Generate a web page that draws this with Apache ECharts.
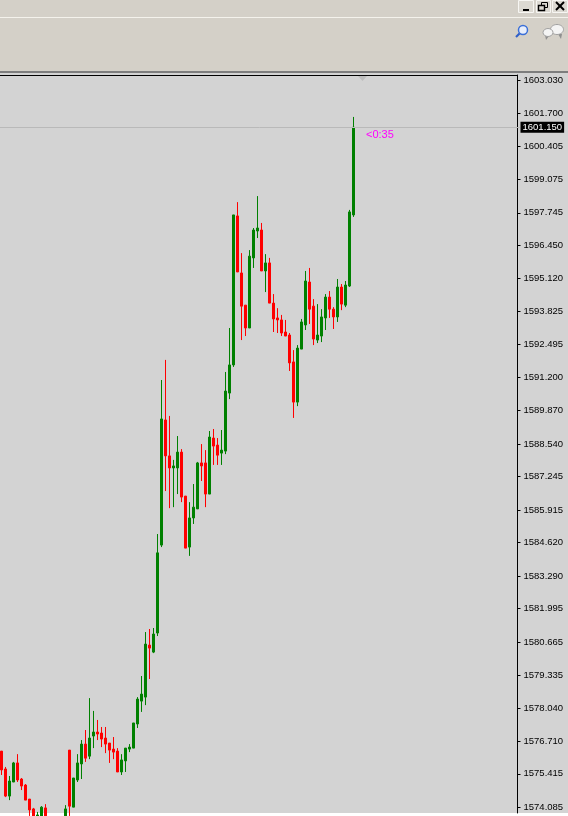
<!DOCTYPE html>
<html>
<head>
<meta charset="utf-8">
<style>
  html, body { margin: 0; padding: 0; background: #fff; }
  #chart { width: 568px; height: 816px; }
</style>
<script src="https://cdn.jsdelivr.net/npm/echarts@6/dist/echarts.min.js"></script>
</head>
<body>
<div id="chart"></div>
<script>
// candles, oldest first. null = bar sits below the visible window
const opens = [1576.32,1575.61,1574.53,1575.09,1575.85,1575.21,1574.97,1574.41,1574.02,1573.50,1573.58,1574.06,null,null,null,null,1573.60,1576.36,1574.09,1575.17,1575.81,1576.60,1576.12,1576.92,1577.08,1577.04,1576.84,1576.64,1576.40,1576.32,1575.49,1575.93,1576.40,1576.44,1577.40,1578.31,1578.47,1580.54,1580.26,1581.02,1584.52,1589.50,1588.07,1587.59,1587.59,1588.22,1586.47,1584.44,1585.60,1585.96,1587.79,1587.79,1586.55,1588.78,1588.50,1588.18,1588.26,1590.57,1591.69,1597.62,1595.35,1594.07,1593.16,1595.95,1597.02,1597.06,1595.43,1595.75,1594.15,1593.56,1593.48,1593.00,1592.88,1591.81,1590.21,1592.32,1593.28,1594.99,1594.03,1592.68,1592.84,1593.56,1594.39,1593.91,1593.60,1594.79,1594.07,1594.83,1597.66];
const closes = [1575.57,1574.53,1575.13,1575.85,1575.17,1574.93,1574.37,1573.98,1573.66,1573.78,1574.09,1573.58,null,null,null,null,1574.02,1574.13,1575.25,1575.85,1576.60,1576.04,1576.84,1577.08,1577.00,1576.80,1576.60,1576.36,1576.28,1575.49,1575.97,1576.44,1576.48,1577.44,1578.39,1578.59,1580.58,1580.42,1580.98,1584.21,1589.54,1588.07,1587.59,1587.67,1588.22,1586.43,1584.40,1585.60,1586.03,1587.79,1587.67,1586.55,1588.82,1588.46,1588.10,1588.30,1590.65,1591.69,1597.66,1595.39,1594.03,1593.16,1596.02,1597.06,1597.14,1595.43,1595.75,1594.15,1593.52,1593.48,1592.96,1592.84,1591.77,1590.21,1592.36,1593.40,1595.03,1593.91,1592.72,1592.88,1593.60,1594.39,1593.91,1593.60,1594.79,1594.11,1594.87,1597.78,1601.15];
const lows = [1575.37,1574.49,1574.37,1575.09,1575.09,1574.77,1574.37,1573.74,1573.58,1573.38,1573.50,1573.50,null,null,null,null,1573.50,1573.74,1574.09,1575.09,1575.21,1575.89,1576.00,1576.44,1576.76,1576.48,1576.24,1575.85,1576.00,1575.49,1575.37,1575.49,1576.28,1576.44,1577.24,1577.88,1578.15,1579.19,1580.22,1580.90,1584.44,1586.67,1585.99,1586.03,1586.55,1586.23,1584.40,1584.09,1585.36,1585.96,1587.07,1586.03,1586.55,1587.71,1587.71,1587.71,1588.14,1590.33,1591.61,1595.39,1592.68,1592.84,1593.16,1595.55,1596.74,1595.43,1594.59,1594.15,1593.00,1592.96,1592.84,1592.84,1591.45,1589.58,1590.05,1592.32,1593.08,1593.32,1592.48,1592.56,1592.60,1593.08,1593.56,1593.12,1593.40,1593.87,1593.99,1594.79,1597.58];
const highs = [1576.32,1575.69,1575.33,1575.89,1576.20,1575.25,1575.01,1574.41,1574.06,1573.90,1574.13,1574.21,null,null,null,null,1574.17,1576.36,1575.25,1576.20,1576.76,1577.16,1578.43,1577.92,1577.56,1577.28,1577.28,1576.64,1576.88,1576.44,1576.20,1576.44,1576.60,1577.44,1578.47,1579.31,1581.06,1581.18,1581.22,1584.96,1591.09,1591.89,1589.66,1587.91,1588.86,1588.34,1586.47,1586.23,1586.95,1587.83,1588.54,1588.30,1589.06,1589.14,1588.78,1589.10,1591.41,1593.16,1597.66,1598.17,1596.14,1594.07,1596.26,1597.14,1598.41,1597.34,1596.10,1595.95,1594.51,1593.95,1593.68,1593.48,1592.96,1592.28,1592.48,1593.52,1595.43,1595.55,1594.31,1594.11,1593.91,1594.51,1594.63,1593.99,1595.11,1594.91,1595.03,1597.86,1601.56];
const tickLabels = [1603.030,1601.700,1600.405,1599.075,1597.745,1596.450,1595.120,1593.825,1592.495,1591.200,1589.870,1588.540,1587.245,1585.915,1584.620,1583.290,1581.995,1580.665,1579.335,1578.040,1576.710,1575.415,1574.085];
const lastPrice = 1601.15;
const countdown = '<0:35';

const slots = Array.from({ length: 130 }, (_, i) => i);
const candles = opens.map((o, i) => [o, closes[i], lows[i], highs[i]]);

const myCharts = echarts.init(document.getElementById('chart'), null, { renderer: 'canvas' });
myCharts.setOption({
  animation: false,
  // half pixel left so the 3px bodies land on whole pixels
  grid: { left: -0.5, top: 75, width: 520, height: 738, show: false, outerBoundsMode: 'none' },
  xAxis: { type: 'category', data: slots, show: false },
  yAxis: {
    type: 'value',
    position: 'right',
    offset: -2,
    min: 1573.857,
    max: 1603.229,
    scale: true,
    splitLine: { show: false },
    axisLine: { show: true, lineStyle: { color: '#000', width: 1 } },
    axisTick: { show: true, length: 3, lineStyle: { color: '#000' }, customValues: tickLabels },
    axisLabel: {
      customValues: tickLabels,
      margin: 6,
      color: '#000',
      fontFamily: 'Liberation Sans',
      fontSize: 9.5,
      showMinLabel: true,
      showMaxLabel: true,
      formatter: (v) => v.toFixed(3),
    },
  },
  series: [
    {
      type: 'candlestick',
      data: candles,
      barWidth: 2,
      z: 3,
      itemStyle: {
        color: '#008000',
        color0: '#ff0000',
        borderColor: '#008000',
        borderColor0: '#ff0000',
        borderWidth: 1,
      },
      markLine: {
        silent: true,
        symbol: 'none',
        animation: false,
        lineStyle: { color: '#b9b9b9', type: 'solid', width: 1 },
        label: {
          show: true,
          position: 'end',
          distance: 1,
          formatter: lastPrice.toFixed(3),
          color: '#fff',
          backgroundColor: '#000',
          fontFamily: 'Liberation Sans',
          fontSize: 9.5,
          padding: [1, 2, 0, 2],
        },
        data: [{ yAxis: lastPrice }],
      },
    },
  ],
  graphic: [
    // chart background and the terminal window around it
    { type: 'rect', z: -10, silent: true, shape: { x: 0, y: 0, width: 568, height: 813 }, style: { fill: '#d3d3d3' } },
    { type: 'rect', z: -9, silent: true, shape: { x: 0, y: 0, width: 568, height: 72 }, style: { fill: '#d4d0c8' } },
    { type: 'rect', z: -8, silent: true, shape: { x: 0, y: 17, width: 568, height: 1 }, style: { fill: '#f4f2ec' } },
    { type: 'rect', z: -8, silent: true, shape: { x: 0, y: 71, width: 568, height: 2 }, style: { fill: '#7d7d7d' } },
    { type: 'rect', z: -8, silent: true, shape: { x: 0, y: 75, width: 518, height: 1 }, style: { fill: '#000' } },
    // window buttons
    { type: 'rect', silent: true, shape: { x: 518.5, y: 0.5, width: 15, height: 12 }, style: { fill: '#dcd9d2', stroke: '#f7f6f3', lineWidth: 1 } },
    { type: 'rect', silent: true, shape: { x: 536.5, y: 0.5, width: 14, height: 12 }, style: { fill: '#dcd9d2', stroke: '#f7f6f3', lineWidth: 1 } },
    { type: 'rect', silent: true, shape: { x: 552.5, y: 0.5, width: 15, height: 12 }, style: { fill: '#dcd9d2', stroke: '#f7f6f3', lineWidth: 1 } },
    { type: 'rect', silent: true, shape: { x: 523, y: 9, width: 6, height: 2 }, style: { fill: '#000' } },
    { type: 'rect', silent: true, shape: { x: 541.5, y: 2.5, width: 6, height: 5 }, style: { fill: 'none', stroke: '#000', lineWidth: 1 } },
    { type: 'rect', silent: true, shape: { x: 538.5, y: 5.5, width: 6, height: 5 }, style: { fill: '#dcd9d2', stroke: '#000', lineWidth: 1.4 } },
    { type: 'line', silent: true, shape: { x1: 556, y1: 2, x2: 564, y2: 10 }, style: { stroke: '#000', lineWidth: 2 } },
    { type: 'line', silent: true, shape: { x1: 564, y1: 2, x2: 556, y2: 10 }, style: { stroke: '#000', lineWidth: 2 } },
    // magnifier
    { type: 'circle', silent: true, shape: { cx: 523, cy: 30, r: 4.5 }, style: { fill: '#e8eefb', stroke: '#3a6fd8', lineWidth: 1.5 } },
    { type: 'line', silent: true, shape: { x1: 519.5, y1: 33.5, x2: 516, y2: 37 }, style: { stroke: '#2f5fc8', lineWidth: 2.2 } },
    // chat bubbles
    { type: 'polygon', silent: true, shape: { points: [[558, 34], [562, 34], [561, 39]] }, style: { fill: '#8f8f8f' } },
    { type: 'ellipse', silent: true, shape: { cx: 557, cy: 29.5, rx: 6.5, ry: 5 }, style: { fill: '#f4f4f4', stroke: '#a0a0a0', lineWidth: 1 } },
    { type: 'polygon', silent: true, shape: { points: [[545, 35], [549, 36], [546, 40]] }, style: { fill: '#8f8f8f' } },
    { type: 'ellipse', silent: true, shape: { cx: 548, cy: 32.5, rx: 5, ry: 4 }, style: { fill: '#f4f4f4', stroke: '#a0a0a0', lineWidth: 1 } },
    // little shift marker under the top edge
    { type: 'polygon', silent: true, shape: { points: [[358, 76], [367, 76], [362.5, 81]] }, style: { fill: '#bdbdbd' } },
    // countdown to next bar
    {
      type: 'text',
      silent: true,
      x: 366,
      y: 129,
      style: { text: countdown, fill: '#ff00ff', font: '11px "Liberation Sans"' },
    },
  ],
});
</script>
</body>
</html>
